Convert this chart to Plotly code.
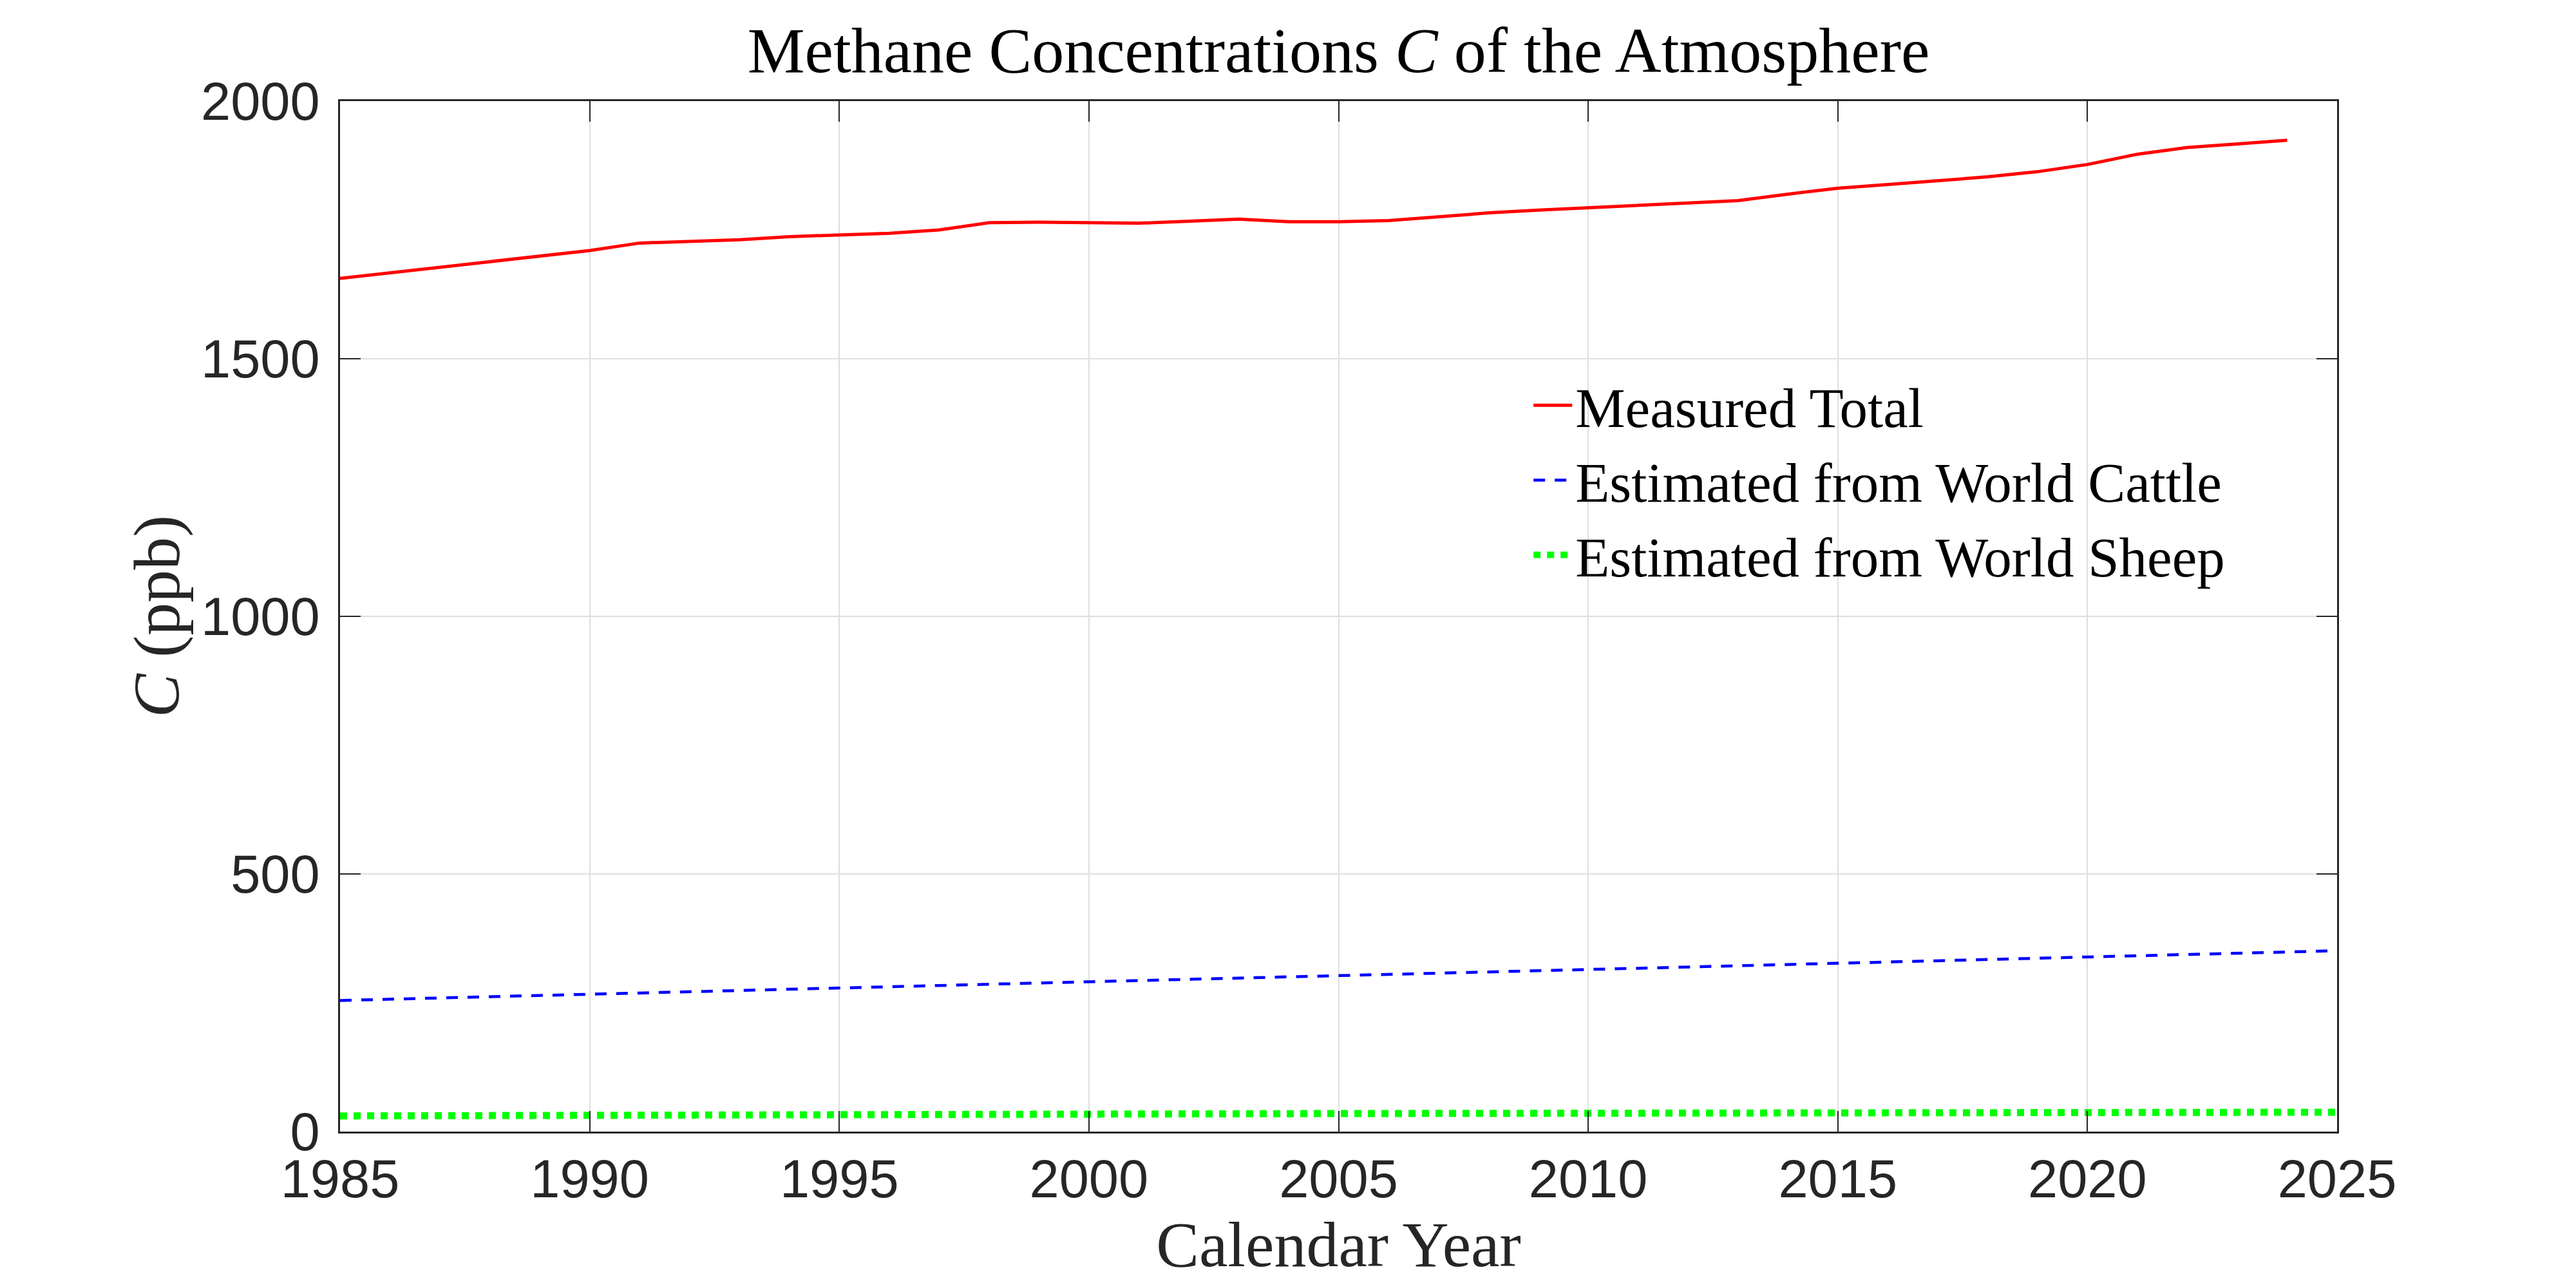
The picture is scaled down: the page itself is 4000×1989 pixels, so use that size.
import plotly.graph_objects as go

# ---- data ----
years_measured = list(range(1985, 2025))
measured_total = [1656, 1667, 1678, 1689, 1700, 1710, 1724.5, 1727, 1731, 1737,
                  1741, 1743.5, 1750, 1764, 1765, 1764, 1763, 1767, 1771, 1766,
                  1766, 1768, 1776, 1783, 1788.5, 1793, 1797.5, 1802.5, 1807, 1819.5,
                  1831, 1838, 1846, 1853, 1863, 1877, 1897, 1910, 1917, 1924]

years_est = list(range(1985, 2026))
cattle_est = [254.5, 256.8, 259.1, 261.4, 263.7, 266.0, 268.5, 271.0, 273.5, 276.0,
              278.5, 281.0, 283.5, 286.0, 288.5, 291.0, 293.4, 295.8, 298.2, 300.6,
              303.0, 305.3, 307.6, 309.9, 312.3, 314.6, 317.0, 319.4, 321.8, 324.3,
              326.7, 329.1, 331.5, 333.9, 336.3, 338.8, 341.2, 343.7, 346.1, 348.6, 351.0]
sheep_est = [30.4, 30.8, 31.1, 31.4, 31.6, 31.8, 32.0, 32.2, 32.5, 32.7,
             33.0, 33.2, 33.4, 33.6, 33.8, 34.0, 34.2, 34.4, 34.6, 34.8,
             35.0, 35.1, 35.2, 35.3, 35.4, 35.5, 35.6, 35.8, 36.0, 36.1,
             36.2, 36.3, 36.4, 36.5, 36.6, 36.8, 37.0, 37.2, 37.4, 37.5, 37.6]

x_ticks = [1985, 1990, 1995, 2000, 2005, 2010, 2015, 2020, 2025]
y_ticks = [0, 500, 1000, 1500, 2000]

title_text = "Methane Concentrations <i>C</i> of the Atmosphere"
x_title = "Calendar Year"
y_title = "<i>C</i> (ppb)"
names = ["Measured Total", "Estimated from World Cattle", "Estimated from World Sheep"]

# ---- styling ----
W, H = 4000, 1989
ML, MR, MT, MB = 520, 379, 149, 240
AX = "#262626"
GRID = "#dfdfdf"
SERIF = "Liberation Serif, Times New Roman, serif"
SANS = "Liberation Sans, Arial, Helvetica, sans-serif"

fig = go.Figure()
fig.add_trace(go.Scatter(x=years_measured, y=measured_total, mode="lines", name=names[0],
                         line=dict(color="#ff0000", width=5)))
fig.add_trace(go.Scatter(x=years_est, y=cattle_est, mode="lines", name=names[1],
                         line=dict(color="#0000ff", width=4.5, dash="18px,15px")))
fig.add_trace(go.Scatter(x=years_est, y=sheep_est, mode="lines", name=names[2],
                         line=dict(color="#00ff00", width=11, dash="11px,10px")))

axis_common = dict(
    showline=True, linecolor=AX, linewidth=2.5, mirror="ticks",
    ticks="inside", ticklen=32, tickwidth=2, tickcolor=AX,
    showgrid=True, gridcolor=GRID, gridwidth=2, zeroline=False,
    tickfont=dict(family=SANS, size=83, color=AX),
)

fig.update_layout(
    width=W, height=H,
    margin=dict(l=ML, r=MR, t=MT, b=MB, autoexpand=False),
    paper_bgcolor="white", plot_bgcolor="white",
    title=dict(text=title_text, x=0.5, xref="paper", xanchor="center",
               y=1 - 104 / H, yref="container", yanchor="bottom",
               font=dict(family=SERIF, size=100, color="#000000")),
    xaxis=dict(range=[1985, 2025], tickvals=x_ticks, ticktext=[str(v) for v in x_ticks],
               title=dict(text=x_title, font=dict(family=SERIF, size=100, color=AX), standoff=6),
               **axis_common),
    yaxis=dict(range=[0, 2000], tickvals=y_ticks, ticktext=[str(v) for v in y_ticks],
               ticklabelstandoff=12,
               title=dict(text=y_title, font=dict(family=SERIF, size=102, color=AX), standoff=0),
               **axis_common),
    legend=dict(x=0.596, y=0.632, xanchor="left", yanchor="middle",
                bgcolor="rgba(0,0,0,0)", borderwidth=0,
                font=dict(family=SERIF, size=87, color="#000000"),
                itemwidth=60, tracegroupgap=0),
    showlegend=True,
)

fig.write_html("out.html")
